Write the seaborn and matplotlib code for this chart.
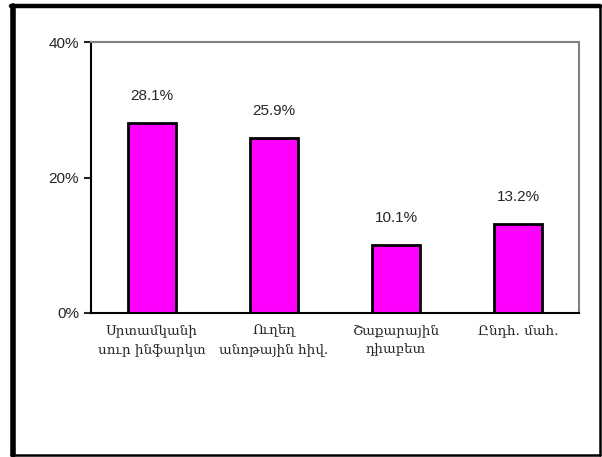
import matplotlib
matplotlib.use("Agg")
import matplotlib.pyplot as plt
import seaborn as sns
import pandas as pd
from matplotlib.lines import Line2D
from matplotlib.ticker import PercentFormatter

sns.set_style("white")
plt.rcParams["font.family"] = ["Liberation Sans", "DejaVu Sans"]

categories = ["Սրտամկանի\nսուր ինֆարկտ", "Ուղեղ\nանոթային հիվ.",
              "Շաքարային\nդիաբետ", "Ընդհ. մահ."]
values = [28.1, 25.9, 10.1, 13.2]
df = pd.DataFrame({"cat": categories, "val": values})

W, H = 602, 457
fig = plt.figure(figsize=(W / 100, H / 100), dpi=100)
ax = fig.add_axes([91 / W, 1 - 313 / H, 488 / W, 271 / H])

sns.barplot(data=df, x="cat", y="val", ax=ax, color="#ff00ff", saturation=1,
            edgecolor="black", linewidth=2, width=0.4)

ax.set_ylim(0, 40)
ax.set_yticks([0, 20, 40])
ax.yaxis.set_major_formatter(PercentFormatter(decimals=0))
ax.set_xlabel("")
ax.set_ylabel("")
ax.tick_params(axis="y", length=5, width=1.5, direction="out", left=True, labelsize=11)
ax.tick_params(axis="x", length=0, pad=8)
for lab in ax.get_xticklabels():
    lab.set_family(["DejaVu Serif"])
    lab.set_fontsize(9.7)
    lab.set_linespacing(1.6)

ax.spines["left"].set_color("black")
ax.spines["left"].set_linewidth(1.5)
ax.spines["bottom"].set_color("black")
ax.spines["bottom"].set_linewidth(1.5)
for s in ["top", "right"]:
    ax.spines[s].set_color("#808080")
    ax.spines[s].set_linewidth(1.5)

for i, v in enumerate(values):
    ax.annotate(f"{v:.1f}%", (i, v), xytext=(0, 14), textcoords="offset points",
                ha="center", va="bottom", fontsize=11)

# outer frame: heavy left/top, lighter right/bottom
frame = [((12.5, 12.5), (6, 455), 4),
         ((10.5, 600), (6, 6), 3.2),
         ((599.5, 599.5), (6, 455), 1.8),
         ((10.5, 600), (455, 455), 1.8)]
for xs, ys, lw in frame:
    fig.add_artist(Line2D([x / W for x in xs], [1 - y / H for y in ys],
                          transform=fig.transFigure, color="black", linewidth=lw))

fig.savefig("out.png", dpi=100, facecolor="white")
